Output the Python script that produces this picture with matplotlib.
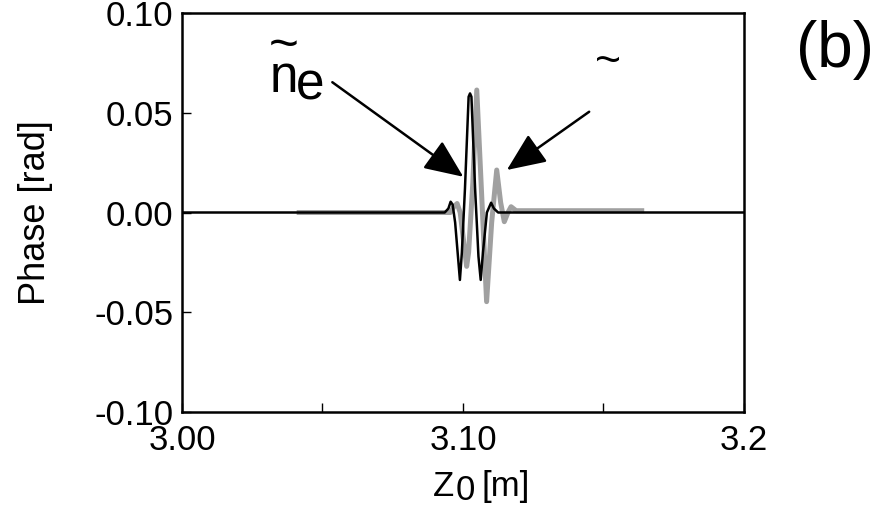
import matplotlib
matplotlib.use('Agg')
import matplotlib.pyplot as plt

# ---- data ----
black_x = [3.000, 3.0935, 3.0948, 3.0956, 3.0963, 3.0972, 3.0989, 3.0996, 3.1007,
           3.1020, 3.1025, 3.1030, 3.1043, 3.1055, 3.1063, 3.1071, 3.1085, 3.1100,
           3.1110, 3.1125, 3.200]
black_y = [0.0, 0.0, 0.002, 0.0054, 0.004, -0.005, -0.0338, -0.020, 0.012,
           0.058, 0.0597, 0.058, 0.012, -0.022, -0.0338, -0.020, 0.0, 0.0049,
           0.002, 0.0, 0.0]

gray_x = [3.0417, 3.0955, 3.0968, 3.0979, 3.0990, 3.1013, 3.1020, 3.1035, 3.1049,
          3.1066, 3.1084, 3.1102, 3.1120, 3.1134, 3.1147, 3.1160, 3.1171, 3.1189,
          3.1636]
gray_y = [0.0, 0.0, 0.003, 0.0045, 0.0, -0.027, -0.020, 0.015, 0.0614,
          0.010, -0.0447, -0.005, 0.0213, 0.005, -0.0046, 0.0, 0.0029, 0.0009,
          0.0009]

x_ticks = [3.00, 3.05, 3.10, 3.15, 3.20]
x_tick_labels = ['3.00', '', '3.10', '', '3.2']
y_ticks = [-0.10, -0.05, 0.00, 0.05, 0.10]
y_tick_labels = ['-0.10', '-0.05', '0.00', '0.05', '0.10']

plt.rcParams['font.family'] = ['Liberation Sans', 'DejaVu Sans']

W, H = 878, 507
fig = plt.figure(figsize=(W / 100, H / 100), dpi=100)
ax = fig.add_axes([182 / W, 1 - 412 / H, (744 - 182) / W, (412 - 13) / H])

ax.plot(gray_x, gray_y, color='#a0a0a0', lw=3.6, solid_joinstyle='round', zorder=2)
ax.plot(black_x, black_y, color='black', lw=1.8, solid_joinstyle='round', zorder=3)

ax.set_xlim(3.0, 3.2)
ax.set_ylim(-0.1, 0.1)
ax.set_xticks(x_ticks)
ax.set_xticklabels(x_tick_labels)
ax.set_yticks(y_ticks)
ax.set_yticklabels(y_tick_labels)
ax.tick_params(direction='in', length=6.5, width=1.0, labelsize=25,
               top=False, right=False)
ax.tick_params(axis='x', pad=9)
ax.tick_params(axis='y', pad=6)
for s in ax.spines.values():
    s.set_linewidth(1.8)

ax.set_ylabel('Phase [rad]', fontsize=26)
ax.yaxis.set_label_coords((53 - 182) / 562, 0.5)

# arrows
ap = dict(arrowstyle='-|>,head_length=1.2,head_width=0.52', color='black', lw=1.8,
          mutation_scale=20, shrinkA=0, shrinkB=0)
ax.annotate('', xy=(3.1001, 0.0179), xytext=(3.0535, 0.0653), arrowprops=ap, zorder=5)
ax.annotate('', xy=(3.1156, 0.0213), xytext=(3.1449, 0.0505), arrowprops=ap, zorder=5)

# labels in figure pixels
def fx(px):
    return px / W

def fy(py):
    return 1 - py / H

# x-axis label: Z with a lowered, full-size 0, then [m]
fig.text(fx(433), fy(496), 'Z', fontsize=25, ha='left', va='baseline')
fig.text(fx(456), fy(499.5), '0', fontsize=25, ha='left', va='baseline')
fig.text(fx(482), fy(496), '[m]', fontsize=25, ha='left', va='baseline')

# tilde-n with lowered e
fig.text(fx(283.5), fy(92), '~\nn', fontsize=37, ha='center', va='baseline',
         multialignment='center', linespacing=0.55)
fig.text(fx(296), fy(100), 'e', fontsize=37, ha='left', va='baseline')
fig.text(fx(608.5), fy(73.5), '~', fontsize=32, ha='center', va='baseline')
fig.text(fx(835), fy(66.5), '(b)', fontsize=46, ha='center', va='baseline')

fig.savefig('out.png', dpi=100)
